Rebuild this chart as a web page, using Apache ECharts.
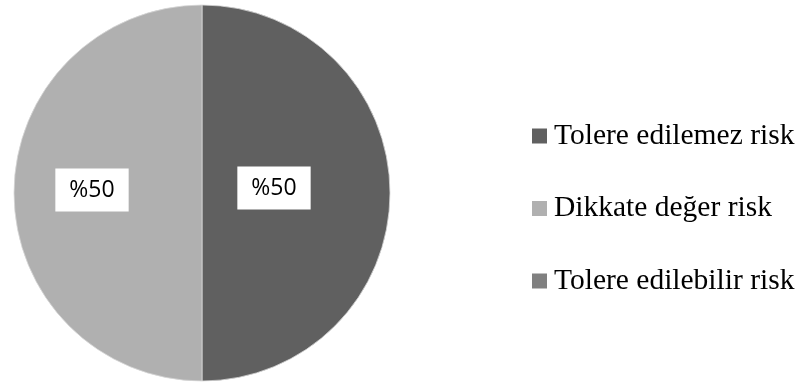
<!DOCTYPE html>
<html>
<head>
<meta charset="utf-8">
<script src="https://cdn.jsdelivr.net/npm/echarts@6/dist/echarts.min.js"></script>
<style>
  html, body { margin: 0; padding: 0; background: #fff; }
  #chart { width: 798px; height: 382px; }
</style>
</head>
<body>
<div id="chart"></div>
<script>
// Risk categories and their shares
const categories = ['Tolere edilemez risk', 'Dikkate değer risk', 'Tolere edilebilir risk'];
const shares = [50, 50, 0];
const colors = ['#606060', '#b0b0b0', '#808080'];
// Pull each label toward the centre of the pie
const labelOffsets = [[-25, -5], [-13, -3], [0, 0]];

const chart = echarts.init(document.getElementById('chart'));

const data = categories.map((name, i) => ({
  name: name,
  value: shares[i],
  itemStyle: { color: colors[i], borderWidth: shares[i] > 0 ? 0.8 : 0 },
  label: { show: shares[i] > 0, offset: labelOffsets[i] }
}));

chart.setOption({
  animation: false,
  legend: {
    orient: 'vertical',
    left: 532,
    top: 121,
    padding: 0,
    itemWidth: 15,
    itemHeight: 15,
    itemGap: 42.5,
    icon: 'rect',
    itemStyle: { borderWidth: 0 },
    textStyle: {
      fontFamily: '"Liberation Serif", "Times New Roman", serif',
      fontSize: 29.5,
      lineHeight: 30,
      color: '#000',
      padding: [0, 0, 0, 2]
    },
    data: categories
  },
  series: [{
    type: 'pie',
    center: [202, 193],
    radius: 188,
    startAngle: 90,
    clockwise: true,
    data: data,
    itemStyle: { borderColor: '#d8d8d8' },
    label: {
      position: 'inside',
      formatter: p => '%' + p.percent,
      fontFamily: '"Open Sans", "Noto Sans", sans-serif',
      fontSize: 23,
      color: '#000',
      backgroundColor: '#fff',
      padding: [10, 14, 10, 14]
    },
    labelLine: { show: false },
    emphasis: { disabled: true }
  }]
});
</script>
</body>
</html>
